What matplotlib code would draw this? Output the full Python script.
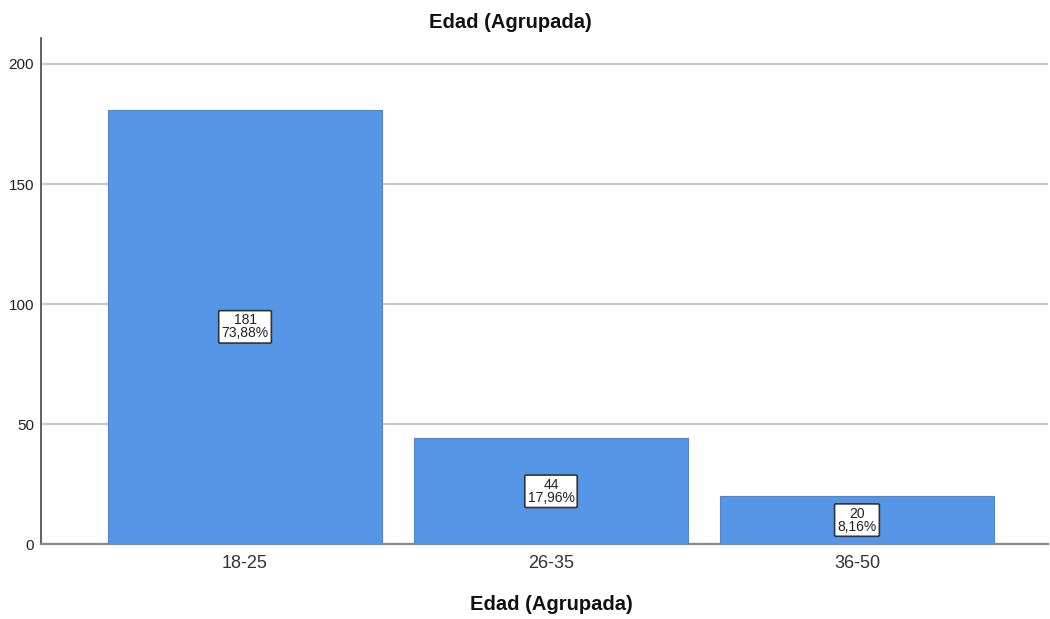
import matplotlib
matplotlib.use("Agg")
import matplotlib.pyplot as plt

categories = ["18-25", "26-35", "36-50"]
counts = [181, 44, 20]
percents = ["73,88%", "17,96%", "8,16%"]
yticks = [0, 50, 100, 150, 200]

plt.rcParams['font.family'] = ['Liberation Sans', 'DejaVu Sans']

fig = plt.figure(figsize=(10.5, 6.19), dpi=100)
ax = fig.add_axes([0.039, 0.121, 0.959, 0.8175])

x = list(range(len(categories)))
ax.bar(x, counts, width=0.895, color="#5596e6", edgecolor="#4a86d4",
       linewidth=0.8, zorder=3)

for xi, c, p in zip(x, counts, percents):
    ax.text(xi, c / 2, f"{c}\n{p}", ha="center", va="center", fontsize=10,
            linespacing=0.9, zorder=4, color="#222222",
            bbox=dict(boxstyle="round,pad=0.2,rounding_size=0.1",
                      facecolor="white", edgecolor="#333333", linewidth=1.2))

ax.set_xlim(-0.667, 2.624)
ax.set_ylim(0, 210.8)
ax.set_yticks(yticks)
ax.set_xticks(x)
ax.set_xticklabels(categories, fontsize=13, color="#333333")
ax.tick_params(axis="y", labelsize=11, length=0, pad=5, colors="#222222")
ax.tick_params(axis="x", length=0, pad=8)

ax.yaxis.grid(True, color="#cccccc", linewidth=1.6, zorder=0)
ax.set_axisbelow(True)
for s in ["top", "right"]:
    ax.spines[s].set_visible(False)
ax.spines["left"].set_color("#555555")
ax.spines["left"].set_linewidth(1.3)
ax.spines["bottom"].set_color("#888888")
ax.spines["bottom"].set_linewidth(1.6)

# title sits slightly left of the axes centre
fig.text(510 / 1050, 1 - 22 / 619, "Edad (Agrupada)", fontsize=14.5,
         fontweight="bold", ha="center", va="center", color="#111111")
fig.text(551 / 1050, 1 - 605 / 619, "Edad (Agrupada)", fontsize=14.5,
         fontweight="bold", ha="center", va="center", color="#111111")

fig.savefig("out.png", dpi=100)
